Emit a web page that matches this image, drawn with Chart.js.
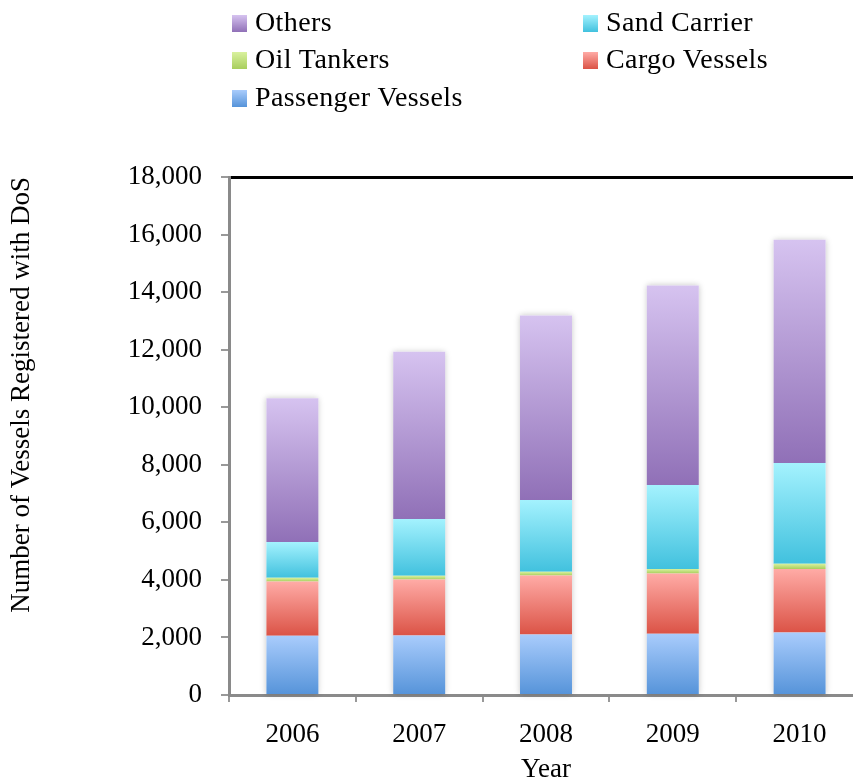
<!DOCTYPE html>
<html>
<head>
<meta charset="utf-8">
<title>Vessels Registered with DoS</title>
<script src="https://cdn.jsdelivr.net/npm/chart.js@4.4.0/dist/chart.umd.min.js"></script>
<style>
  html, body { margin: 0; padding: 0; background: #fff; overflow: hidden; }
  #wrap { position: relative; width: 863px; height: 783px; }
  #legend {
    position: absolute; left: 232px; top: 3px;
    display: grid; grid-template-columns: 351px 260px; grid-auto-rows: 37.5px;
    font: 28px 'Liberation Serif', serif; letter-spacing: 0.4px; color: #000;
  }
  .item { display: flex; align-items: center; white-space: nowrap; }
  .box { width: 15px; height: 17px; margin-right: 8px; margin-top: 3px; }
</style>
</head>
<body>
<div id="wrap">
  <canvas id="chart" width="863" height="783"></canvas>
  <div id="legend"></div>
</div>
<script>
// Data
const years = ['2006', '2007', '2008', '2009', '2010'];
const passengerVessels = [2060, 2070, 2100, 2130, 2170];
const cargoVessels = [1880, 1940, 2050, 2090, 2210];
const oilTankers = [130, 130, 130, 160, 180];
const sandCarrier = [1250, 1980, 2500, 2920, 3500];
const others = [4990, 5810, 6410, 6930, 7760];

const yMax = 18000;
const yStep = 2000;

// top / bottom colours of each gradient
const colours = {
  passenger: ['#a9ccfc', '#5593d9'],
  cargo: ['#ffaba6', '#db5346'],
  oil: ['#d9f19e', '#a8ce5d'],
  sand: ['#a4f2fe', '#41c1de'],
  others: ['#d6c3f0', '#9070b7']
};

// vertical gradient for one stacked segment
function segmentGradient(pair) {
  return (ctx) => {
    const chart = ctx.chart;
    const y = chart.scales.y;
    if (!y || ctx.type !== 'data') return pair[1];
    let base = 0;
    for (let d = 0; d < ctx.datasetIndex; d++) base += chart.data.datasets[d].data[ctx.dataIndex];
    const top = base + chart.data.datasets[ctx.datasetIndex].data[ctx.dataIndex];
    const y0 = y.getPixelForValue(top);
    const y1 = y.getPixelForValue(base);
    if (!Number.isFinite(y0) || !Number.isFinite(y1) || y0 === y1) return pair[1];
    const g = chart.ctx.createLinearGradient(0, y0, 0, y1);
    g.addColorStop(0, pair[0]);
    g.addColorStop(1, pair[1]);
    return g;
  };
}

// soft shadow behind each whole stack
const stackShadow = {
  id: 'stackShadow',
  beforeDatasetsDraw(chart) {
    const first = chart.getDatasetMeta(0).data;
    const last = chart.getDatasetMeta(chart.data.datasets.length - 1).data;
    const ctx = chart.ctx;
    ctx.save();
    ctx.shadowColor = 'rgba(0,0,0,0.22)';
    ctx.shadowBlur = 6;
    ctx.fillStyle = '#fff';
    first.forEach((bar, i) => {
      const w = bar.width;
      ctx.fillRect(bar.x - w / 2, last[i].y, w, bar.base - last[i].y);
    });
    ctx.restore();
  }
};

Chart.defaults.font.family = "'Liberation Serif', serif";
Chart.defaults.font.size = 27;
Chart.defaults.color = '#000';

const datasets = [
  { label: 'Passenger Vessels', data: passengerVessels, legend: colours.passenger },
  { label: 'Cargo Vessels', data: cargoVessels, legend: colours.cargo },
  { label: 'Oil Tankers', data: oilTankers, legend: colours.oil },
  { label: 'Sand Carrier', data: sandCarrier, legend: colours.sand },
  { label: 'Others', data: others, legend: colours.others }
];

// legend in two columns, same order as the original (top of stack first)
const legendEl = document.getElementById('legend');
datasets.slice().reverse().forEach(d => {
  const item = document.createElement('div');
  item.className = 'item';
  const box = document.createElement('span');
  box.className = 'box';
  box.style.background = `linear-gradient(${d.legend[0]}, ${d.legend[1]})`;
  item.appendChild(box);
  item.appendChild(document.createTextNode(d.label));
  legendEl.appendChild(item);
});

const chart = new Chart(document.getElementById('chart'), {
  type: 'bar',
  data: {
    labels: years,
    datasets: datasets.map(d => ({
      label: d.label,
      data: d.data,
      backgroundColor: segmentGradient(d.legend),
      borderWidth: 0,
      categoryPercentage: 1,
      barPercentage: 0.41
    }))
  },
  options: {
    responsive: false,
    animation: false,
    devicePixelRatio: 1,
    layout: { padding: { top: 177, left: 0, right: 0, bottom: 0 } },
    plugins: {
      legend: { display: false },
      tooltip: { enabled: false }
    },
    scales: {
      x: {
        stacked: true,
        grid: { display: true, drawOnChartArea: false, tickLength: 7, color: '#999', lineWidth: 2 },
        border: { color: '#8a8a8a', width: 3 },
        ticks: { padding: 19, color: '#000', font: { lineHeight: 1 } },
        title: { display: true, text: 'Year', font: { lineHeight: 1 }, padding: { top: 0, bottom: 0 } },
        afterFit(scale) { scale.height = 88; }
      },
      xTop: {
        position: 'top',
        grid: { display: true, drawOnChartArea: false, drawTicks: false },
        border: { color: '#000', width: 3 },
        ticks: { display: false }
      },
      y: {
        stacked: true,
        min: 0,
        max: yMax,
        ticks: { stepSize: yStep, padding: 19, color: '#000' },
        grid: { display: true, drawOnChartArea: false, tickLength: 8, color: '#999', lineWidth: 2 },
        border: { color: '#8a8a8a', width: 3 },
        title: {
          display: true,
          text: 'Number of Vessels Registered with DoS',
          align: 'end',
          padding: { top: 6, bottom: 0 }
        },
        afterFit(scale) { scale.width = 229; }
      }
    }
  },
  plugins: [stackShadow]
});
</script>
</body>
</html>
